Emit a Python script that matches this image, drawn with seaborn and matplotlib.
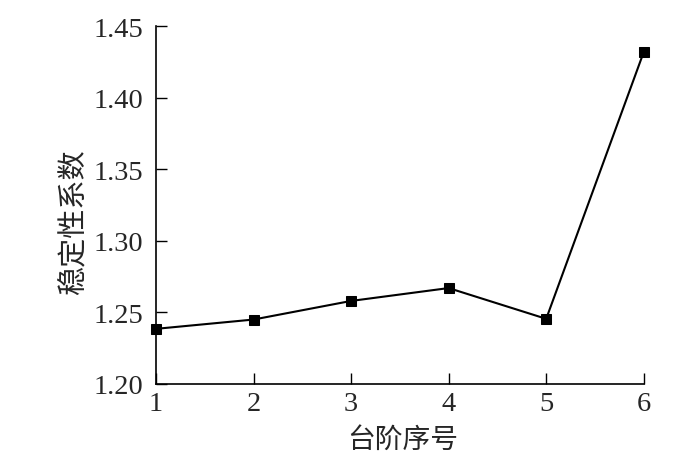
import matplotlib
matplotlib.use("Agg")
import matplotlib.pyplot as plt
import seaborn as sns
import pandas as pd

steps = [1, 2, 3, 4, 5, 6]
factors = [1.2385, 1.245, 1.258, 1.267, 1.2455, 1.432]
xticks = [1, 2, 3, 4, 5, 6]
yticks = [1.20, 1.25, 1.30, 1.35, 1.40, 1.45]
xlabel = "台阶序号"
ylabel = "稳定性系数"

sns.set_style("ticks")
plt.rcParams['font.family'] = ['Liberation Serif', 'Noto Sans CJK SC']
plt.rcParams['xtick.direction'] = 'in'
plt.rcParams['ytick.direction'] = 'in'

df = pd.DataFrame({"step": steps, "factor": factors})

fig = plt.figure(figsize=(6.9, 4.77), dpi=100)
ax = fig.add_axes([0.226, 0.193, 0.707, 0.750])
sns.lineplot(data=df, x="step", y="factor", ax=ax, color="black",
             marker="s", markersize=7, linewidth=1.5, markeredgecolor="black")
ax.set_xlim(1, 6)
ax.set_ylim(1.20, 1.45)
ax.set_xticks(xticks)
ax.set_xticklabels([str(v) for v in xticks])
ax.set_yticks(yticks)
ax.set_yticklabels([f"{v:.2f}" for v in yticks])
ax.tick_params(axis='both', labelsize=20.5, length=8, width=1, color='black')
ax.tick_params(axis='y', pad=9)
ax.tick_params(axis='x', pad=5)
for s in ["top", "right"]:
    ax.spines[s].set_visible(False)
for s in ["left", "bottom"]:
    ax.spines[s].set_linewidth(1.2)
    ax.spines[s].set_color("black")
ax.set_xlabel(xlabel, fontsize=20, family=['Noto Sans CJK SC'])
ax.set_ylabel(ylabel, fontsize=21, family=['Noto Sans CJK SC'])
ax.xaxis.set_label_coords(0.505, -0.154)
ax.xaxis.label.set_va('center')
ax.yaxis.set_label_coords(-0.167, 0.455)
ax.yaxis.label.set_va('center')
for line in ax.lines:
    line.set_clip_on(False)
fig.savefig("out.png", dpi=100)
